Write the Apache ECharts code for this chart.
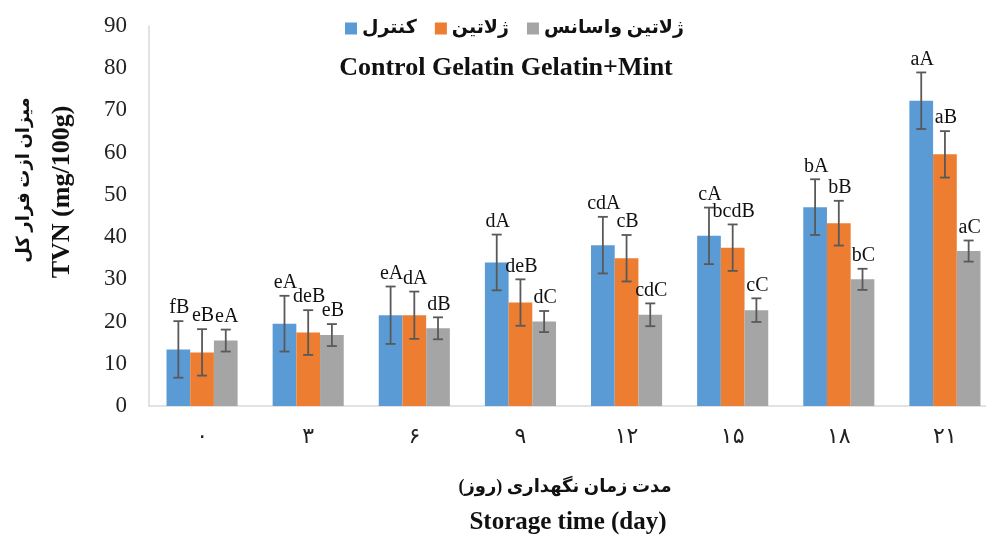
<!DOCTYPE html>
<html>
<head>
<meta charset="utf-8">
<script src="https://cdn.jsdelivr.net/npm/echarts@6/dist/echarts.min.js"></script>
<style>html,body{margin:0;padding:0;background:#fff;overflow:hidden;}#main{width:998px;height:537px;}</style>
</head>
<body>
<div id="main"></div>
<script>
// ---- data ----
const categories = ['۰', '۳', '۶', '۹', '۱۲', '۱۵', '۱۸', '۲۱'];
const seriesNames = ['کنترل', 'ژلاتین', 'ژلاتین واسانس'];
const controlVals = [13.4, 19.5, 21.5, 34.0, 38.1, 40.3, 47.1, 72.3];
const gelatinVals = [12.7, 17.4, 21.5, 24.5, 35.0, 37.5, 43.3, 59.6];
const mintVals    = [15.5, 16.8, 18.4, 20.0, 21.6, 22.7, 30.0, 36.7];
const controlErr = [6.7, 6.6, 6.8, 6.6, 6.7, 6.7, 6.6, 6.7];
const gelatinErr = [5.5, 5.3, 5.6, 5.5, 5.5, 5.5, 5.3, 5.5];
const mintErr    = [2.6, 2.6, 2.6, 2.5, 2.7, 2.8, 2.5, 2.5];
const controlLbl = ['fB', 'eA', 'eA', 'dA', 'cdA', 'cA', 'bA', 'aA'];
const gelatinLbl = ['eB', 'deB', 'dA', 'deB', 'cB', 'bcdB', 'bB', 'aB'];
const mintLbl    = ['eA', 'eB', 'dB', 'dC', 'cdC', 'cC', 'bC', 'aC'];
const yTicks = {min: 0, max: 90, interval: 10};

const colors = ['#5B9BD5', '#ED7D31', '#A5A5A5'];
const vals = [controlVals, gelatinVals, mintVals];
const errs = [controlErr, gelatinErr, mintErr];
const lbls = [controlLbl, gelatinLbl, mintLbl];
const CAT_GAP = 0.33;
const serif = '"Liberation Serif", "DejaVu Serif", serif';
const fa = '"Liberation Serif", "DejaVu Sans", serif';

const chart = echarts.init(document.getElementById('main'), null, {renderer: 'canvas'});

function makeRender(k) {
  return function (params, api) {
    const x = api.value(0), v = api.value(1), e = api.value(2);
    const base = api.coord([x, v]);
    const band = api.size([1, 0])[0];
    const bw = band * (1 - CAT_GAP) / 3;
    const cx = base[0] + (k - 1) * bw;
    const top = api.coord([x, v + e])[1];
    const bot = api.coord([x, v - e])[1];
    const st = {stroke: '#595959', lineWidth: 1.8};
    const cap = 5;
    return {
      type: 'group',
      children: [
        {type: 'line', shape: {x1: cx, y1: top, x2: cx, y2: bot}, style: st},
        {type: 'line', shape: {x1: cx - cap, y1: top, x2: cx + cap, y2: top}, style: st},
        {type: 'line', shape: {x1: cx - cap, y1: bot, x2: cx + cap, y2: bot}, style: st},
        {type: 'text', style: {x: cx + 1, y: top - 3, text: lbls[k][params.dataIndex],
          font: '20px ' + serif, fill: '#111', align: 'center', verticalAlign: 'bottom'}}
      ]
    };
  };
}

const series = [];
for (let k = 0; k < 3; k++) {
  series.push({
    name: seriesNames[k], type: 'bar', data: vals[k],
    itemStyle: {color: colors[k]}, barGap: '0%', barCategoryGap: (CAT_GAP * 100) + '%',
    emphasis: {disabled: true}
  });
}
for (let k = 0; k < 3; k++) {
  series.push({
    type: 'custom', renderItem: makeRender(k), z: 5,
    data: vals[k].map((v, i) => [i, v, errs[k][i]]),
    encode: {x: 0, y: 1}, silent: true
  });
}

chart.setOption({
  animation: false,
  backgroundColor: '#fff',
  legend: {
    data: seriesNames, top: 14, left: 340, itemWidth: 12, itemHeight: 12, itemGap: 18,
    icon: 'rect',
    textStyle: {fontFamily: fa, fontSize: 19, fontWeight: 'bold', color: '#111'}
  },
  grid: {left: 149, top: 26, right: 0, height: 380, containLabel: false},
  xAxis: {
    type: 'category', data: categories,
    axisLine: {lineStyle: {color: '#d9d9d9', width: 1.5}},
    axisTick: {show: false},
    axisLabel: {fontFamily: fa, fontSize: 22, color: '#222', margin: 20}
  },
  yAxis: {
    type: 'value', min: yTicks.min, max: yTicks.max, interval: yTicks.interval,
    axisLine: {show: true, lineStyle: {color: '#d9d9d9', width: 1.5}},
    axisTick: {show: false},
    splitLine: {show: false},
    axisLabel: {fontFamily: serif, fontSize: 23, color: '#222', margin: 22}
  },
  graphic: [
    {type: 'text', x: 506, y: 68, style: {text: 'Control Gelatin Gelatin+Mint',
      font: 'bold 26px ' + serif, fill: '#111', align: 'center', verticalAlign: 'middle'}},
    {type: 'text', x: 24, y: 180, rotation: Math.PI / 2,
      style: {text: 'میزان ازت فرار کل', font: 'bold 18px ' + fa, fill: '#111', align: 'center', verticalAlign: 'middle'}},
    {type: 'text', x: 62, y: 192, rotation: Math.PI / 2,
      style: {text: 'TVN (mg/100g)', font: 'bold 26px ' + serif, fill: '#111', align: 'center', verticalAlign: 'middle'}},
    {type: 'text', x: 565, y: 487, style: {text: 'مدت زمان نگهداری (روز)',
      font: 'bold 18px ' + fa, fill: '#111', align: 'center', verticalAlign: 'middle'}},
    {type: 'text', x: 568, y: 523, style: {text: 'Storage time (day)',
      font: 'bold 25px ' + serif, fill: '#111', align: 'center', verticalAlign: 'middle'}}
  ],
  series: series
});
</script>
</body>
</html>
